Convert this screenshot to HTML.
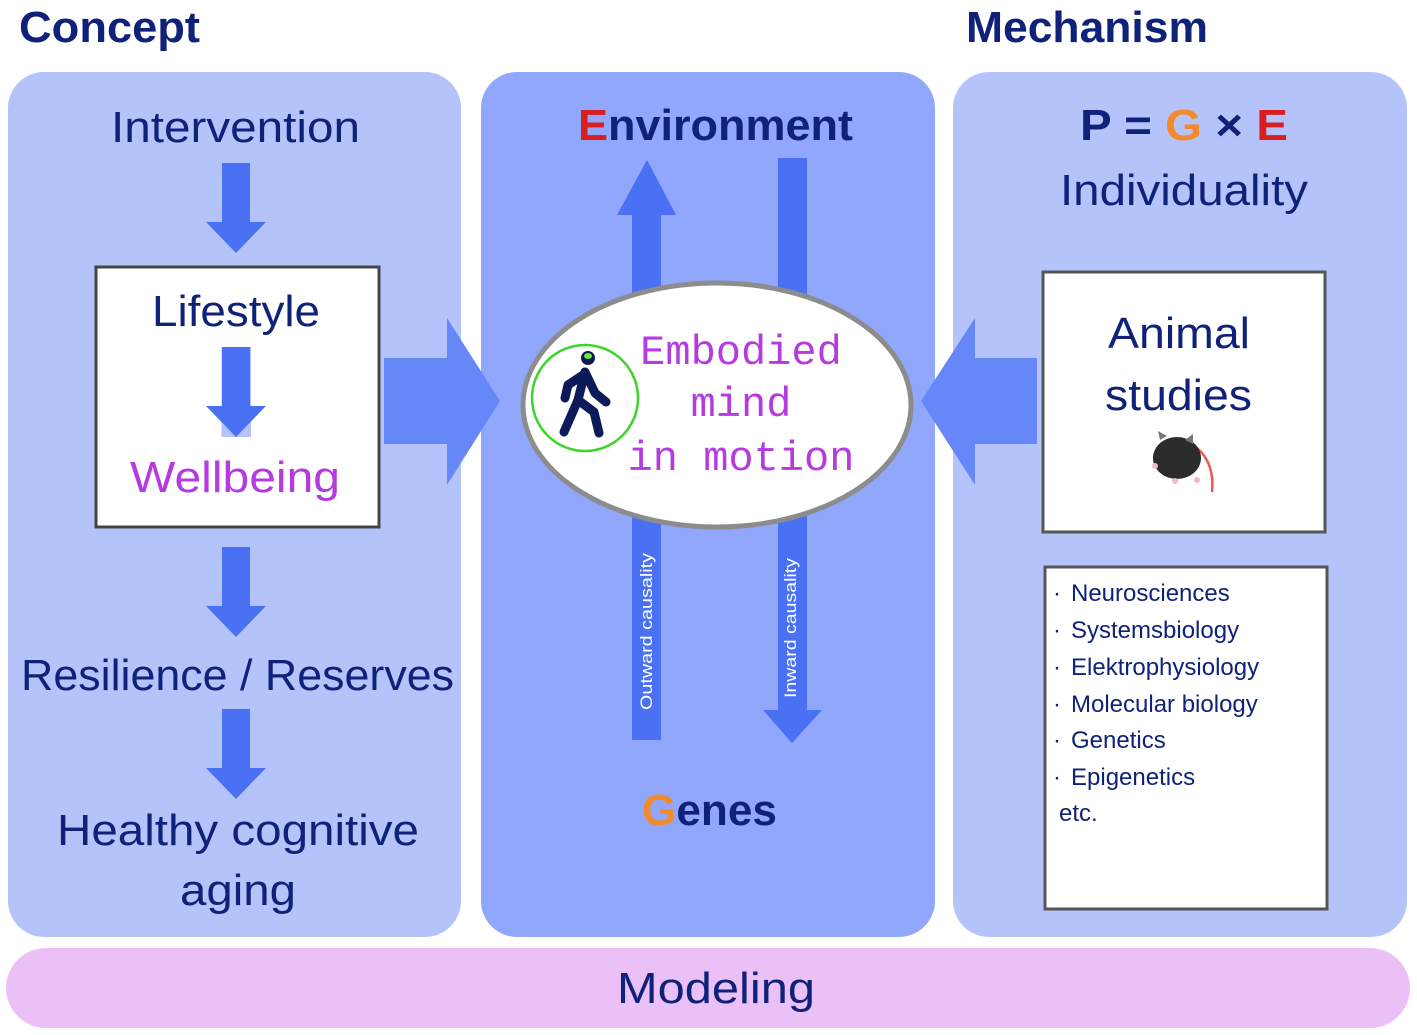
<!DOCTYPE html>
<html><head><meta charset="utf-8"><style>html,body{margin:0;padding:0;background:#fff}svg{display:block}</style></head><body>
<svg width="1417" height="1035" viewBox="0 0 1417 1035" xmlns="http://www.w3.org/2000/svg" font-family="Liberation Sans, sans-serif">
<rect width="1417" height="1035" fill="#fff"/>
<!-- panels -->
<rect x="8" y="72" width="453" height="865" rx="36" fill="#b5c3fb"/>
<rect x="481" y="72" width="454" height="865" rx="36" fill="#90a7fb"/>
<rect x="953" y="72" width="454" height="865" rx="36" fill="#b5c3fb"/>
<rect x="6" y="948" width="1404" height="80" rx="40" fill="#ebc0f6"/>
<!-- titles -->
<text x="19" y="42" font-size="44" font-weight="bold" fill="#10217a" textLength="181" lengthAdjust="spacingAndGlyphs">Concept</text>
<text x="966" y="42" font-size="44" font-weight="bold" fill="#10217a" textLength="242" lengthAdjust="spacingAndGlyphs">Mechanism</text>
<g fill="#4a70f4">
<!-- left arrows -->
<path d="M222 163h28v59h16l-30 31-30-31h16z"/>
<path d="M222 347h28v59h16l-30 31-30-31h16z"/>
<path d="M222 547h28v59h16l-30 31-30-31h16z"/>
<path d="M222 709h28v59h16l-30 31-30-31h16z"/>
</g>
<g fill="#6687f7">
<path d="M384 358h63v-40l53 83-53 84v-41h-63z"/>
<path d="M1037 358h-62v-40l-54 83 54 84v-41h62z"/>
</g>
<g fill="#4a70f4">
<path d="M632 740v-525h-15l30-55 29 55h-15v525z"/>
<path d="M778 158h29v552h15l-30 33-29-33h15z"/>
</g>
<!-- lifestyle box -->
<rect x="96" y="267" width="283" height="260" fill="none" stroke="#444" stroke-width="3"/>
<rect x="97.5" y="268.5" width="280" height="78" fill="#fff"/>
<rect x="97.5" y="437" width="280" height="88.5" fill="#fff"/>
<rect x="97.5" y="346" width="124" height="91" fill="#fff"/>
<rect x="251" y="346" width="126.5" height="91" fill="#fff"/>
<path d="M222 346v60h-16l30 31 30-31h-16v-60z" fill="#fff"/>
<path d="M222 347h28v59h16l-30 31-30-31h16z" fill="#4a70f4"/>
<g fill="#10217a">
<text x="111" y="142" font-size="44" textLength="249" lengthAdjust="spacingAndGlyphs">Intervention</text>
<text x="152" y="326" font-size="44" textLength="168" lengthAdjust="spacingAndGlyphs">Lifestyle</text>
<text x="21" y="690" font-size="44" textLength="433" lengthAdjust="spacingAndGlyphs">Resilience / Reserves</text>
<text x="57" y="845" font-size="44" textLength="362" lengthAdjust="spacingAndGlyphs">Healthy cognitive</text>
<text x="180" y="905" font-size="44" textLength="116" lengthAdjust="spacingAndGlyphs">aging</text>
</g>
<text x="130" y="492" font-size="44" fill="#b53ae0" textLength="210" lengthAdjust="spacingAndGlyphs">Wellbeing</text>
<!-- environment -->
<text x="578" y="140" font-size="44" font-weight="bold" fill="#10217a" textLength="275" lengthAdjust="spacingAndGlyphs"><tspan fill="#d81e1e">E</tspan>nvironment</text>
<text x="642" y="825" font-size="44" font-weight="bold" fill="#10217a" textLength="135" lengthAdjust="spacingAndGlyphs"><tspan fill="#f58a2a">G</tspan>enes</text>
<text transform="translate(652,710) rotate(-90)" font-size="17" fill="#fff" textLength="157" lengthAdjust="spacingAndGlyphs">Outward causality</text>
<text transform="translate(796,698) rotate(-90)" font-size="17" fill="#fff" textLength="140" lengthAdjust="spacingAndGlyphs">Inward causality</text>
<!-- ellipse -->
<ellipse cx="717" cy="405" rx="194" ry="122" fill="#fff" stroke="#8c8c8c" stroke-width="5"/>
<circle cx="585" cy="398" r="53" fill="none" stroke="#3bd62a" stroke-width="2.5"/>
<g fill="#0d1a5a" stroke="#0d1a5a" stroke-linecap="round" stroke-linejoin="round">
<circle cx="588" cy="358" r="7" stroke="none"/>
<path d="M585 372 L578 400 L564 432 M578 400 L594 412 L599 433 M585 372 L595 393 L606 402 M583 375 L568 385 L565 398" fill="none" stroke-width="9"/>
</g>
<ellipse cx="588" cy="356" rx="4" ry="3" fill="#6ee83a"/>
<g font-family="Liberation Mono, monospace" font-size="42" fill="#b53ae0" text-anchor="middle">
<text x="741" y="364">Embodied</text>
<text x="741" y="416">mind</text>
<text x="741" y="470">in motion</text>
</g>
<!-- right -->
<text x="1184" y="140" font-size="44" font-weight="bold" fill="#10217a" text-anchor="middle" textLength="208" lengthAdjust="spacingAndGlyphs">P = <tspan fill="#f58a2a">G</tspan> × <tspan fill="#d81e1e">E</tspan></text>
<text x="1060" y="205" font-size="44" fill="#10217a" textLength="248" lengthAdjust="spacingAndGlyphs">Individuality</text>
<rect x="1043" y="272" width="282" height="260" fill="#fff" stroke="#555" stroke-width="3"/>
<text x="1108" y="348" font-size="44" fill="#10217a" textLength="142" lengthAdjust="spacingAndGlyphs">Animal</text>
<text x="1105" y="410" font-size="44" fill="#10217a" textLength="147" lengthAdjust="spacingAndGlyphs">studies</text>
<path d="M1193 445 Q1215 460 1212 492" fill="none" stroke="#e85a5a" stroke-width="2.5"/>
<ellipse cx="1177" cy="458" rx="24" ry="21" fill="#2b2b2b"/>
<path d="M1160 440 l-2 -9 l9 5z M1185 440 l8 -6 l0 10z" fill="#777"/>
<circle cx="1155" cy="466" r="3" fill="#f2b9c0"/><circle cx="1175" cy="481" r="3" fill="#f2b9c0"/><circle cx="1197" cy="480" r="3" fill="#f2b9c0"/>
<rect x="1045" y="567" width="282" height="342" fill="#fff" stroke="#555" stroke-width="3"/>
<g font-size="24" fill="#10217a">
<text x="1053" y="601">· <tspan x="1071">Neurosciences</tspan></text>
<text x="1053" y="638">· <tspan x="1071">Systemsbiology</tspan></text>
<text x="1053" y="675">· <tspan x="1071">Elektrophysiology</tspan></text>
<text x="1053" y="712">· <tspan x="1071">Molecular biology</tspan></text>
<text x="1053" y="748">· <tspan x="1071">Genetics</tspan></text>
<text x="1053" y="785">· <tspan x="1071">Epigenetics</tspan></text>
<text x="1059" y="821">etc.</text>
</g>
<text x="617" y="1003" font-size="44" fill="#10217a" textLength="198" lengthAdjust="spacingAndGlyphs">Modeling</text>
</svg>
</body></html>
